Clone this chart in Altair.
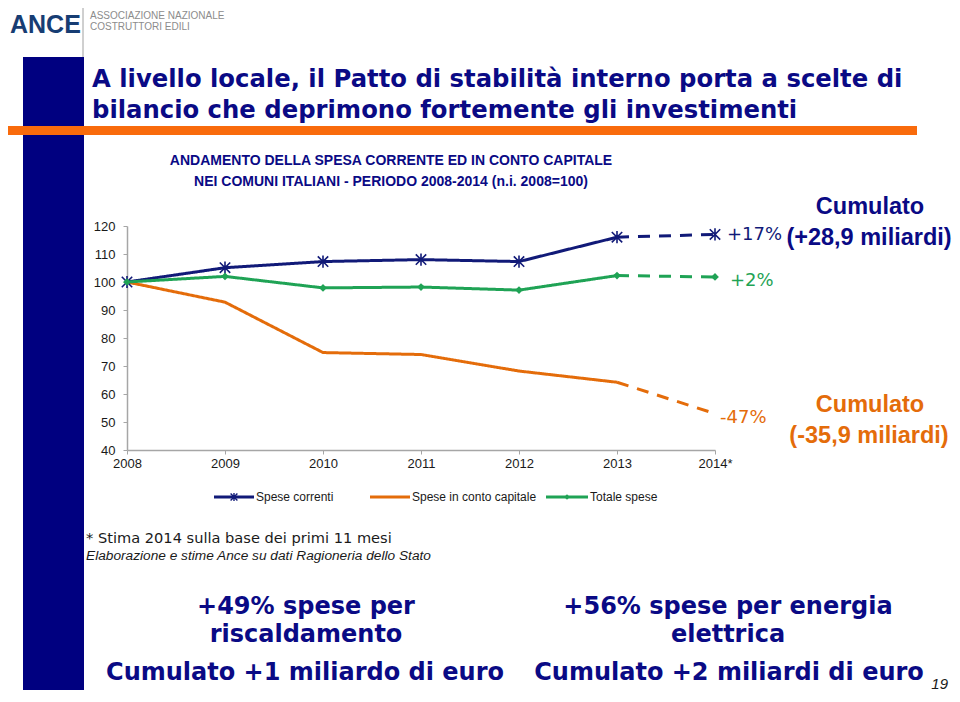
import altair as alt
import pandas as pd

# ---------------- data ----------------
years = ["2008", "2009", "2010", "2011", "2012", "2013", "2014*"]
series = ["Spese correnti", "Spese in conto capitale", "Totale spese"]
correnti = [100, 105.1, 107.3, 108.0, 107.3, 116.0, 117.0]
capitale = [100, 92.8, 74.8, 74.1, 68.2, 64.2, 53.0]
totale = [100, 102.0, 97.9, 98.2, 97.1, 102.3, 101.8]
y_ticks = [40, 50, 60, 70, 80, 90, 100, 110, 120]

title_lines = ["A livello locale, il Patto di stabilità interno porta a scelte di",
               "bilancio che deprimono fortemente gli investimenti"]
chart_title = ["ANDAMENTO DELLA SPESA CORRENTE ED IN CONTO CAPITALE",
               "NEI COMUNI ITALIANI - PERIODO 2008-2014 (n.i. 2008=100)"]
pct_labels = ["+17%", "-47%", "+2%"]
cum_navy = ["Cumulato", "(+28,9 miliardi)"]
cum_orange = ["Cumulato", "(-35,9 miliardi)"]
notes = ["* Stima 2014 sulla base dei primi 11 mesi",
         "Elaborazione e stime Ance su dati Ragioneria dello Stato"]
left_box = ["+49%  spese per", "riscaldamento", "Cumulato +1 miliardo di euro"]
right_box = ["+56%  spese per energia", "elettrica", "Cumulato +2 miliardi di euro"]
logo = ["ANCE", "ASSOCIAZIONE NAZIONALE", "COSTRUTTORI EDILI"]
page_no = "19"

NAVY = "#0a0a85"
LNAVY = "#111a78"
ORANGE = "#e46c0a"
GREEN = "#1fa355"
AXIS = "#a6a6a6"
colors = [LNAVY, ORANGE, GREEN]

# plot area in page coordinates
OX, OY = 127, 226
W, H = 588, 224
SVG_W, SVG_H = 944, 686

def px(x):
    return x - OX

def py(y):
    return y - OY

# ---------------- line data ----------------
rows = []
for name, vals in zip(series, [correnti, capitale, totale]):
    for i, (yr, v) in enumerate(zip(years, vals)):
        if i <= 5:
            rows.append({"serie": name, "anno": yr, "valore": v, "seg": "solid", "grp": name + "s"})
        if i >= 5:
            rows.append({"serie": name, "anno": yr, "valore": v, "seg": "dash", "grp": name + "d"})
df_lines = pd.DataFrame(rows)

df_corr = pd.DataFrame({"anno": years, "valore": correnti})
df_tot = pd.DataFrame({"anno": years, "valore": totale})

x_enc = alt.X("anno:O", sort=years, scale=alt.Scale(type="point", domain=years, padding=0),
              axis=alt.Axis(title=None, labelAngle=0, tickSize=4, labelPadding=3,
                            domainColor=AXIS, tickColor=AXIS, labelColor="#1a1a1a",
                            labelFont="Liberation Sans", labelFontSize=13, domainWidth=1.5))
y_enc = alt.Y("valore:Q", scale=alt.Scale(domain=[40, 120], nice=False, zero=False),
              axis=alt.Axis(title=None, values=y_ticks, tickSize=4, labelPadding=8, grid=False,
                            labelOverlap=False,
                            domainColor=AXIS, tickColor=AXIS, labelColor="#1a1a1a",
                            labelFont="Liberation Sans", labelFontSize=13, domainWidth=1.5))

lines = alt.Chart(df_lines).mark_line(strokeWidth=3).encode(
    x=x_enc, y=y_enc,
    color=alt.Color("serie:N", scale=alt.Scale(domain=series, range=colors), legend=None),
    strokeDash=alt.StrokeDash("seg:N", scale=alt.Scale(domain=["solid", "dash"], range=[[1, 0], [12, 9]]), legend=None),
    detail="grp:N",
)

ASTER = "M0,-1L0,1M-0.85,-0.85L0.85,0.85M-0.85,0.85L0.85,-0.85"

pts_corr = alt.Chart(df_corr).mark_point(shape=ASTER, filled=False, size=150, strokeWidth=1.6,
                                         color=LNAVY, opacity=1).encode(x=x_enc, y=y_enc)
pts_tot = alt.Chart(df_tot).mark_point(shape="diamond", filled=True, size=60,
                                       color=GREEN, opacity=1).encode(x=x_enc, y=y_enc)

# ---------------- helpers for decorations ----------------
one = pd.DataFrame({"k": [0]})

def rect(x1, x2, y1, y2, color):
    return alt.Chart(one).mark_rect(color=color).encode(
        x=alt.value(px(x1)), x2=alt.value(px(x2)), y=alt.value(py(y1)), y2=alt.value(py(y2)))

def rule(x1, x2, y1, y2, color, width):
    return alt.Chart(one).mark_rule(color=color, strokeWidth=width).encode(
        x=alt.value(px(x1)), x2=alt.value(px(x2)), y=alt.value(py(y1)), y2=alt.value(py(y2)))

def txt(text, x, y, size, color, font="Liberation Sans", weight="normal", align="left", style="normal"):
    return alt.Chart(pd.DataFrame({"t": [text]})).mark_text(
        align=align, baseline="alphabetic", fontSize=size, font=font, fontWeight=weight,
        fontStyle=style, color=color).encode(
        x=alt.value(px(x)), y=alt.value(py(y)), text="t:N")

def sym(shape, x, y, size, color, filled):
    return alt.Chart(one).mark_point(shape=shape, filled=filled, size=size, color=color,
                                     strokeWidth=1.4, opacity=1).encode(
        x=alt.value(px(x)), y=alt.value(py(y)))

deco = [
    rect(23, 84, 57, 690, "#000080"),
    rect(5, 917, 126, 135, "#f96b0c"),
    rule(83, 83, 5, 57, "#a0a0a0", 1),
    txt(logo[0], 10, 33, 25, "#173d73", weight="bold"),
    txt(logo[1], 90, 19, 10, "#8c8c8c"),
    txt(logo[2], 90, 30, 10, "#8c8c8c"),
    txt(title_lines[0], 92, 87, 24.3, NAVY, font="DejaVu Sans", weight="bold"),
    txt(title_lines[1], 92, 118, 24.3, NAVY, font="DejaVu Sans", weight="bold"),
    txt(chart_title[0], 391, 165, 14, NAVY, weight="bold", align="center"),
    txt(chart_title[1], 391, 186, 14, NAVY, weight="bold", align="center"),
]

annots = [
    txt(pct_labels[0], 727, 240, 18, LNAVY, font="DejaVu Sans"),
    txt(pct_labels[2], 730, 286, 18, GREEN, font="DejaVu Sans"),
    txt(pct_labels[1], 720, 423, 18, ORANGE, font="DejaVu Sans"),
    txt(cum_navy[0], 870, 214, 23.5, NAVY, weight="bold", align="center"),
    txt(cum_navy[1], 869, 245, 23.5, NAVY, weight="bold", align="center"),
    txt(cum_orange[0], 870, 412, 23.5, ORANGE, weight="bold", align="center"),
    txt(cum_orange[1], 869, 443, 23.5, ORANGE, weight="bold", align="center"),
]

legend = [
    rule(214, 254, 497, 497, LNAVY, 3),
    sym(ASTER, 234, 497, 64, LNAVY, False),
    txt(series[0], 256, 501, 12, "#1a1a1a"),
    rule(370, 410, 497, 497, ORANGE, 3),
    txt(series[1], 412, 501, 12, "#1a1a1a"),
    rule(546, 588, 497, 497, GREEN, 3),
    sym("diamond", 567, 497, 30, GREEN, True),
    txt(series[2], 590, 501, 12, "#1a1a1a"),
]

foot = [
    txt(notes[0], 86, 543, 14.6, "#1a1a1a", font="DejaVu Sans"),
    txt(notes[1], 86, 560, 13.7, "#1a1a1a", style="italic"),
    txt(left_box[0], 306, 614, 24, NAVY, font="DejaVu Sans", weight="bold", align="center"),
    txt(left_box[1], 306, 642, 24, NAVY, font="DejaVu Sans", weight="bold", align="center"),
    txt(left_box[2], 305, 680, 24, NAVY, font="DejaVu Sans", weight="bold", align="center"),
    txt(right_box[0], 728, 614, 24, NAVY, font="DejaVu Sans", weight="bold", align="center"),
    txt(right_box[1], 728, 642, 24, NAVY, font="DejaVu Sans", weight="bold", align="center"),
    txt(right_box[2], 729, 680, 24, NAVY, font="DejaVu Sans", weight="bold", align="center"),
    txt(page_no, 948, 689, 15, "#1a1a1a", style="italic", align="right"),
]

chart = alt.layer(*deco, lines, pts_corr, pts_tot, *annots, *legend, *foot).properties(
    width=W, height=H,
    padding={"left": OX - 8, "top": OY - 8, "right": SVG_W - (OX - 8) - W, "bottom": SVG_H - (OY - 8) - H},
    autosize=alt.AutoSizeParams(type="none"),
    background="white",
).configure_view(stroke=None)

chart.save("out.html", embed_options={"renderer": "svg", "actions": False})
